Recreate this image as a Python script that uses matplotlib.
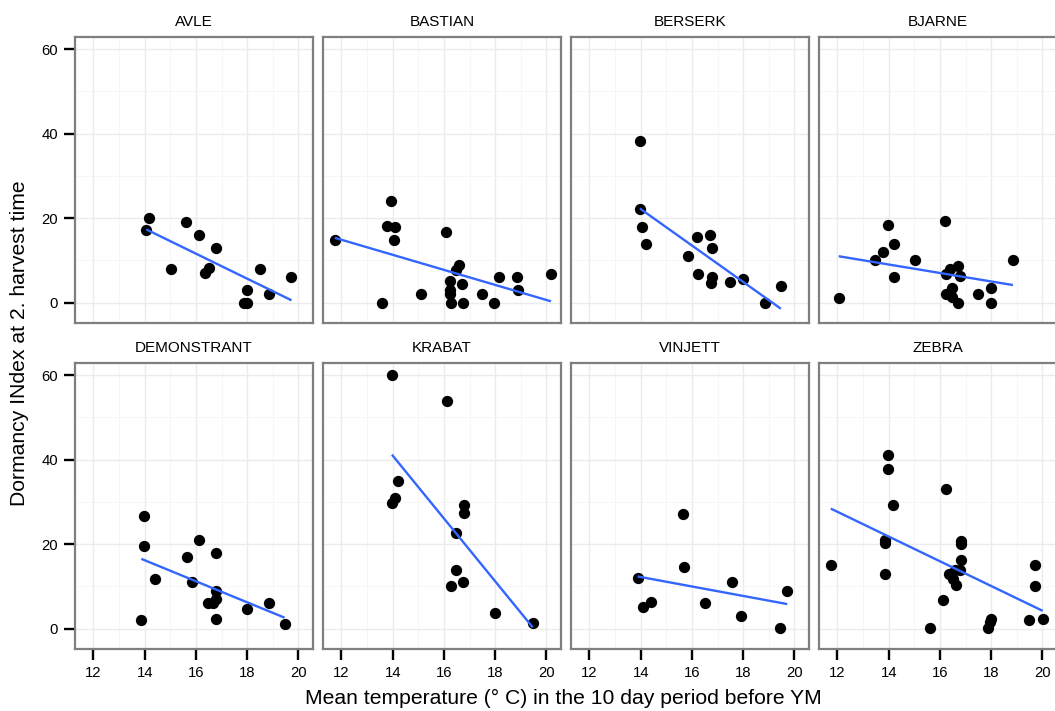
import matplotlib
matplotlib.use("Agg")
import matplotlib.pyplot as plt
import numpy as np

# cultivar panels, in facet order
cultivars = ["AVLE", "BASTIAN", "BERSERK", "BJARNE",
             "DEMONSTRANT", "KRABAT", "VINJETT", "ZEBRA"]

# mean temperature (deg C) in the 10 days before YM, per cultivar
temp = {
    "AVLE": [14.17, 14.06, 15.62, 16.12, 16.78, 15.01, 16.51, 16.34, 18.52,
             17.99, 17.86, 18.01, 18.87, 19.73],
    "BASTIAN": [11.74, 13.95, 13.77, 14.08, 14.05, 13.58, 16.10, 15.12, 16.58,
                16.48, 16.25, 16.70, 16.25, 16.22, 16.26, 16.74, 17.49, 17.97,
                18.16, 18.86, 18.91, 20.18],
    "BERSERK": [13.97, 13.97, 14.07, 14.20, 16.21, 16.70, 16.78, 15.84, 16.24,
                16.78, 16.74, 17.50, 17.98, 18.84, 19.47],
    "BJARNE": [12.05, 13.97, 14.21, 13.79, 13.45, 15.01, 14.21, 16.20, 16.70,
               16.41, 16.24, 16.80, 16.47, 16.24, 16.46, 16.70, 17.50, 17.99,
               17.99, 18.85],
    "DEMONSTRANT": [13.99, 13.99, 13.87, 14.39, 15.66, 16.11, 15.83, 16.77,
                    16.77, 16.77, 16.49, 16.66, 16.77, 17.99, 18.86, 19.46],
    "KRABAT": [13.99, 16.11, 14.21, 14.10, 13.97, 16.80, 16.80, 16.49, 16.46,
               16.27, 16.76, 17.98, 19.47],
    "VINJETT": [13.88, 15.64, 15.69, 14.10, 14.40, 16.50, 17.55, 17.90, 19.45,
                19.72],
    "ZEBRA": [11.74, 13.97, 13.97, 14.15, 13.87, 13.87, 13.87, 16.25, 16.82,
              16.82, 16.82, 16.77, 16.60, 16.34, 16.51, 16.63, 16.11, 15.61,
              18.00, 17.97, 17.88, 19.71, 19.71, 19.47, 20.01],
}

# dormancy index at the 2nd harvest, same order as temp
dormancy = {
    "AVLE": [20.1, 17.2, 19.0, 16.1, 13.0, 8.1, 8.2, 7.1, 8.1, 3.1, 0.0, 0.0,
             2.1, 6.2],
    "BASTIAN": [14.9, 24.0, 18.2, 18.0, 14.9, 0.0, 16.8, 2.1, 9.0, 7.8, 5.1,
                4.5, 3.1, 2.1, 0.0, 0.0, 2.1, 0.0, 6.2, 6.2, 3.1, 6.9],
    "BERSERK": [38.4, 22.2, 17.9, 13.9, 15.6, 16.0, 13.0, 11.1, 6.9, 6.2, 4.7,
                5.0, 5.5, 0.0, 4.0],
    "BJARNE": [1.2, 18.3, 13.9, 12.1, 10.0, 10.0, 6.2, 19.4, 8.7, 8.0, 6.9,
               6.4, 3.6, 2.1, 1.3, 0.0, 2.1, 3.4, 0.0, 10.0],
    "DEMONSTRANT": [26.7, 19.5, 2.0, 11.7, 17.0, 21.0, 11.0, 17.9, 9.0, 7.0,
                    6.0, 6.2, 2.2, 4.6, 6.0, 1.0],
    "KRABAT": [60.0, 53.8, 35.0, 31.0, 29.8, 29.2, 27.3, 22.7, 13.9, 10.2,
               11.0, 3.7, 1.3],
    "VINJETT": [12.1, 27.1, 14.5, 5.2, 6.3, 6.1, 11.1, 3.0, 0.2, 9.0],
    "ZEBRA": [15.2, 41.1, 37.8, 29.2, 21.0, 20.2, 13.0, 33.0, 20.7, 20.1, 16.2,
              14.0, 13.9, 13.0, 11.8, 10.4, 6.8, 0.2, 2.3, 1.6, 0.2, 15.2, 10.2,
              2.1, 2.3],
}

x_ticks = [12, 14, 16, 18, 20]
y_ticks = [0, 20, 40, 60]

plt.rcParams['font.family'] = ['Liberation Sans', 'DejaVu Sans']

W, H = 1055, 711
fig = plt.figure(figsize=(W / 100, H / 100), dpi=100)

# panel geometry in pixels
left0, pitch, pw = 75, 248, 238
tops, ph = [37, 363], 286

border_col = '#7f7f7f'
for i, name in enumerate(cultivars):
    row, col = divmod(i, 4)
    x0 = left0 + col * pitch
    y0 = tops[row]
    ax = fig.add_axes([x0 / W, 1 - (y0 + ph) / H, pw / W, ph / H])
    ax.set_xlim(11.28, 20.57)
    ax.set_ylim(-4.8, 62.9)

    # grid: major and minor lines
    for v in np.arange(12, 21, 1):
        ax.axvline(v, color='#ebebeb' if v % 2 == 0 else '#f5f5f5',
                   lw=1.0 if v % 2 == 0 else 0.6, zorder=0)
    for v in np.arange(0, 61, 10):
        ax.axhline(v, color='#ebebeb' if v % 20 == 0 else '#f5f5f5',
                   lw=1.0 if v % 20 == 0 else 0.6, zorder=0)

    x = np.array(temp[name])
    y = np.array(dormancy[name])
    ax.scatter(x, y, s=66, color='black', linewidths=0, zorder=3)

    # least squares fit over the observed range
    b, a = np.polyfit(x, y, 1)
    xs = np.array([x.min(), x.max()])
    ax.plot(xs, a + b * xs, color='#3366ff', lw=1.7, zorder=4,
            solid_capstyle='butt')

    for s in ax.spines.values():
        s.set_color(border_col)
        s.set_linewidth(1.6)

    ax.set_xticks(x_ticks)
    ax.set_yticks(y_ticks)
    ax.tick_params(length=7.8, width=1.7, color='black', labelsize=10.7,
                   pad=4.5)
    if row == 0:
        ax.tick_params(axis='x', bottom=False, labelbottom=False)
    if col != 0:
        ax.tick_params(axis='y', left=False, labelleft=False)

    ax.set_title(name, fontsize=11, pad=8)

fig.text(563 / W, 1 - 698 / H, 'Mean temperature (° C) in the 10 day period before YM',
         ha='center', va='center', fontsize=15.2)
fig.text(20 / W, 1 - 343 / H, 'Dormancy INdex at 2. harvest time',
         ha='center', va='center', rotation=90, fontsize=15.2)

fig.savefig('out.png', dpi=100, facecolor='white')
